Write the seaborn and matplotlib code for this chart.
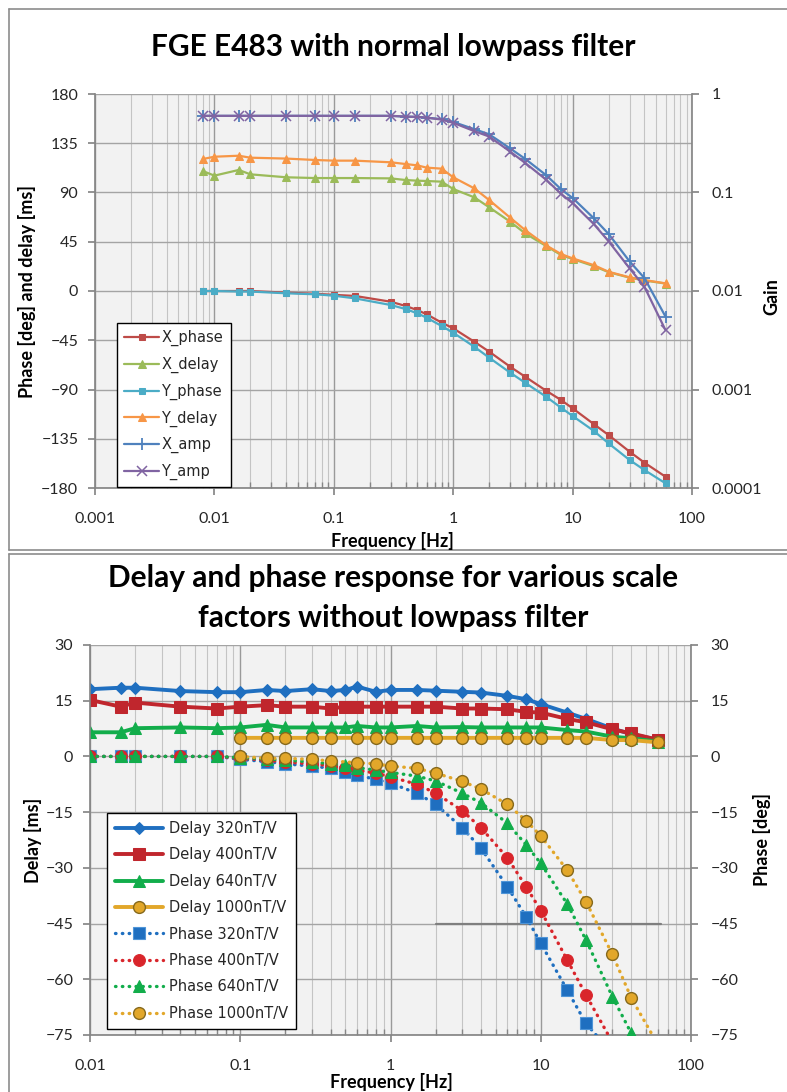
import numpy as np
import matplotlib.pyplot as plt
import seaborn as sns
from matplotlib.ticker import LogLocator, NullLocator, NullFormatter, FuncFormatter, MultipleLocator
from matplotlib.lines import Line2D

# ---------- top chart: FGE E483 with normal lowpass filter ----------
freq_top = [0.008, 0.01, 0.016, 0.02, 0.04, 0.07, 0.1, 0.15, 0.3, 0.4, 0.5, 0.6, 0.8,
            1, 1.5, 2, 3, 4, 6, 8, 10, 15, 20, 30, 40, 60]
x_phase = [0, 0, 0, 0, -1.5, -2.5, -3.5, -4.5, -9.8, -13.7, -17.4, -21.3, -28.9,
           -34.1, -46.3, -55.4, -69.2, -78.3, -91.1, -99.6, -107.2, -121.5, -131.6, -146.8, -156.9, -169.7]
x_delay = [109.6, 105.4, 110.6, 106.6, 103.9, 103.2, 103.2, 103.2, 102.9, 101.4, 100.8, 100.5, 99.9,
           93.2, 85.6, 76.5, 63.3, 52.7, 41.1, 32.9, 29.2, 22.8, 17.2, 12.2, 9.6, 6.8]
y_phase = [0, 0, -0.5, -0.5, -2.1, -3.0, -4.3, -6.7, -12.8, -16.5, -20.4, -24.4, -32.0,
           -38.1, -50.9, -60.9, -74.6, -83.8, -96.6, -106.6, -114.2, -127.7, -139.2, -154.4, -163.6, -175.7]
y_delay = [120.6, 122.7, 123.6, 121.8, 121.0, 119.7, 119.1, 119.1, 117.6, 116.0, 114.8, 112.7, 111.8,
           103.9, 93.8, 83.1, 67.0, 55.7, 41.7, 33.8, 29.8, 23.7, 17.6, 12.5, 10.0, 7.0]
x_amp = [0.6, 0.6, 0.6, 0.6, 0.6, 0.6, 0.6, 0.6, 0.6, 0.59, 0.585, 0.575, 0.555,
         0.52, 0.44, 0.39, 0.28, 0.22, 0.15, 0.108, 0.088, 0.055, 0.038, 0.02, 0.0135, 0.0055]
y_amp = [0.6, 0.6, 0.6, 0.6, 0.6, 0.6, 0.6, 0.6, 0.6, 0.59, 0.585, 0.575, 0.55,
         0.51, 0.42, 0.37, 0.26, 0.2, 0.135, 0.097, 0.078, 0.048, 0.032, 0.017, 0.011, 0.004]

# ---------- bottom chart: various scale factors, no lowpass ----------
freq_bot = [0.01, 0.016, 0.02, 0.04, 0.07, 0.1, 0.15, 0.2, 0.3, 0.4, 0.5, 0.6, 0.8,
            1, 1.5, 2, 3, 4, 6, 8, 10, 15, 20, 30, 40, 60]
nan = np.nan
delay_320 = [18.1, 18.5, 18.5, 17.6, 17.3, 17.3, 17.9, 17.6, 18.1, 17.6, 17.9, 18.8, 17.4,
             17.9, 17.9, 17.7, 17.4, 17.2, 16.3, 15.4, 14.1, 11.8, 10.1, 7.5, 6.0, 4.5]
delay_400 = [15.2, 13.4, 14.5, 13.4, 12.9, 13.4, 13.8, 13.4, 13.4, 12.9, 13.4, 13.4, 13.4,
             13.4, 13.4, 13.4, 12.9, 12.9, 12.7, 12.0, 11.8, 10.1, 9.2, 7.3, 6.2, 4.5]
delay_640 = [6.5, 6.5, 7.6, 7.8, 7.6, 7.8, 8.5, 7.8, 7.8, 7.8, 7.8, 8.2, 7.8,
             7.8, 8.2, 7.8, 7.9, 7.8, 7.8, 7.8, 7.8, 7.1, 6.7, 5.3, 4.9, 4.0]
delay_1000 = [nan, nan, nan, nan, nan, 5.0, 5.0, 5.0, 5.0, 5.0, nan, 5.0, 5.0,
              5.0, 5.0, 5.0, 5.0, 5.0, 5.0, 5.0, 5.0, 5.0, 5.0, 4.4, 4.4, 3.8]
phase_320 = [0, 0, 0, 0, 0, -0.8, -1.4, -2.0, -2.6, -3.2, -4.1, -5.0, -6.2,
             -7.2, -9.9, -12.9, -19.2, -24.7, -35.1, -43.2, -50.3, -62.9, -71.9, -80.0, nan, nan]
phase_400 = [0, 0, 0, 0, 0, -0.5, -1.0, -1.5, -2.0, -2.5, -3.0, -3.7, -4.5,
             -5.5, -7.5, -9.9, -14.6, -19.2, -27.3, -35.1, -41.5, -54.8, -64.2, -77.0, nan, nan]
phase_640 = [0, 0, 0, 0, 0, -0.3, -0.7, -1.0, -1.5, -2.0, -2.4, -3.0, -3.7,
             -4.3, -5.3, -6.6, -9.9, -12.5, -18.0, -23.8, -28.8, -39.7, -49.4, -64.7, -74.5, nan]
phase_1000 = [nan, nan, nan, nan, nan, 0, -0.5, -0.5, -0.8, -1.2, nan, -1.7, -2.0,
              -2.6, -3.2, -4.5, -6.7, -8.8, -12.9, -17.3, -21.4, -30.6, -39.1, -53.3, -65.0, -77.5]
ref_freq = [2, 63]
ref_level = [-45, -45]

W, H = 787, 1092
sns.set_theme(style="ticks")
plt.rcParams['font.family'] = ['Lato', 'DejaVu Sans']

fig = plt.figure(figsize=(W / 100, H / 100), dpi=100)
fig.patch.set_facecolor('white')


def px_axes(left, top, right, bottom):
    return fig.add_axes([left / W, 1 - bottom / H, (right - left) / W, (bottom - top) / H])


def draw(ax, x, y, **kw):
    x = np.asarray(x, float)
    y = np.asarray(y, float)
    keep = ~np.isnan(y)
    sns.lineplot(x=x[keep], y=y[keep], ax=ax, legend=False, sort=False,
                 estimator=None, errorbar=None, **kw)


def style_pair(ax, ax2):
    ax.set_facecolor('#f2f2f2')
    ax.set_xscale('log')
    ax.xaxis.set_major_locator(LogLocator(base=10, numticks=12))
    ax.xaxis.set_minor_locator(LogLocator(base=10, subs=np.arange(2, 10), numticks=40))
    ax.xaxis.set_major_formatter(FuncFormatter(lambda v, p: f'{v:g}'))
    ax.xaxis.set_minor_formatter(NullFormatter())
    ax.grid(which='major', axis='x', color='#9a9a9a', lw=1.0)
    ax.grid(which='minor', axis='x', color='#c4c4c4', lw=0.8)
    ax.grid(which='major', axis='y', color='#a4a4a4', lw=1.0)
    ax.set_axisbelow(True)
    for s in ['top', 'right']:
        ax.spines[s].set_visible(False)
    for s in ['left', 'bottom']:
        ax.spines[s].set_color('#868686')
    for s in ['top', 'left', 'bottom']:
        ax2.spines[s].set_visible(False)
    ax2.spines['right'].set_color('#868686')
    ax2.grid(False)
    ax.tick_params(axis='x', which='major', direction='out', length=5, pad=12,
                   labelsize=11.5, color='#868686', labelcolor='#262626')
    ax.tick_params(axis='x', which='minor', direction='in', length=4, color='#868686')
    ax.tick_params(axis='y', which='major', direction='out', length=5, pad=7,
                   labelsize=11.5, color='#868686', labelcolor='#262626')
    ax2.tick_params(axis='y', which='major', direction='out', length=5, pad=9,
                    labelsize=11.5, color='#868686', labelcolor='#262626')
    ax.set_xlabel('')
    ax.set_ylabel('')
    ax2.set_xlabel('')
    ax2.set_ylabel('')


# ---------------- top chart ----------------
ax = px_axes(95, 94, 692, 488)
ax2 = ax.twinx()
style_pair(ax, ax2)

lw = 1.6
draw(ax, freq_top, x_phase, color='#be4b48', lw=lw, marker='s', ms=5, mec='#be4b48', label='X_phase')
draw(ax, freq_top, x_delay, color='#9bbb59', lw=lw, marker='^', ms=5.5, mec='#9bbb59', label='X_delay')
draw(ax, freq_top, y_phase, color='#4bacc6', lw=lw, marker='s', ms=5, mec='#4bacc6', label='Y_phase')
draw(ax, freq_top, y_delay, color='#f79646', lw=lw, marker='^', ms=5.5, mec='#f79646', label='Y_delay')
draw(ax2, freq_top, x_amp, color='#4f81bd', lw=lw, marker='+', ms=8, mew=1.3, mec='#4f81bd', label='X_amp')
draw(ax2, freq_top, y_amp, color='#8064a2', lw=lw, marker='x', ms=6.5, mew=1.1, mec='#8064a2', label='Y_amp')

ax.set_xlim(0.001, 100)
ax.set_ylim(-180, 180)
ax.yaxis.set_major_locator(MultipleLocator(45))
ax2.set_yscale('log')
ax2.set_ylim(0.0001, 1)
ax2.yaxis.set_major_locator(LogLocator(base=10, numticks=10))
ax2.yaxis.set_minor_locator(NullLocator())
ax2.yaxis.set_major_formatter(FuncFormatter(lambda v, p: f'{v:g}'))

h1, l1 = ax.get_legend_handles_labels()
h2, l2 = ax2.get_legend_handles_labels()
leg = fig.legend(h1 + h2, l1 + l2, loc='upper left', bbox_to_anchor=(117 / W, 1 - 323 / H),
                 bbox_transform=fig.transFigure, borderaxespad=0, fancybox=False,
                 edgecolor='black', framealpha=1, prop={'family': 'DejaVu Sans', 'size': 10.5},
                 handlelength=2.4, handletextpad=0.15, labelspacing=0.72, borderpad=0.5)
leg.get_frame().set_linewidth(1.0)

title_kw = dict(ha='center', va='center', fontsize=21.5, fontweight='bold', color='black')
label_kw = dict(ha='center', va='center', fontsize=13, fontweight='bold', color='black')
fig.text(393 / W, 1 - 47 / H, 'FGE E483 with normal lowpass filter', **title_kw)
fig.text(27 / W, 1 - 292 / H, 'Phase [deg] and delay [ms]', rotation=90, **label_kw)
fig.text(772 / W, 1 - 297 / H, 'Gain', rotation=90, **label_kw)
fig.text(392 / W, 1 - 541 / H, 'Frequency [Hz]', **label_kw)

# ---------------- bottom chart ----------------
bx = px_axes(90, 645, 691, 1035)
bx2 = bx.twinx()
style_pair(bx, bx2)

dlw = 2.8
draw(bx, freq_bot, delay_320, color='#1f6fc0', lw=dlw, marker='D', ms=6.5, mec='#1f6fc0', label='Delay 320nT/V')
draw(bx, freq_bot, delay_400, color='#c0262d', lw=dlw, marker='s', ms=8.5, mec='#c0262d', label='Delay 400nT/V')
draw(bx, freq_bot, delay_640, color='#12ad4b', lw=dlw, marker='^', ms=8.5, mec='#12ad4b', label='Delay 640nT/V')
draw(bx, freq_bot, delay_1000, color='#e2a72a', lw=dlw, marker='o', ms=8.5, mec='#86691c', mew=1.0,
     label='Delay 1000nT/V')
bx.plot(ref_freq, ref_level, color='#7f7f7f', lw=1.6, zorder=1.5)

dots = (0, (0.15, 1.9))
plw = 2.4
draw(bx2, freq_bot, phase_320, color='#1f6fc0', lw=plw, ls=dots, dash_capstyle='round', marker='s', ms=9,
     mec='#4f95d8', mew=0.8, label='Phase 320nT/V')
draw(bx2, freq_bot, phase_400, color='#d9252b', lw=plw, ls=dots, dash_capstyle='round', marker='o', ms=8.5,
     mec='#d9252b', label='Phase 400nT/V')
draw(bx2, freq_bot, phase_640, color='#12ad4b', lw=plw, ls=dots, dash_capstyle='round', marker='^', ms=8.5,
     mec='#12ad4b', label='Phase 640nT/V')
draw(bx2, freq_bot, phase_1000, color='#e2a72a', lw=plw, ls=dots, dash_capstyle='round', marker='o', ms=8.5,
     mec='#86691c', mew=1.0, label='Phase 1000nT/V')

bx.set_xlim(0.01, 100)
for a in (bx, bx2):
    a.set_ylim(-75, 30)
    a.yaxis.set_major_locator(MultipleLocator(15))
    a.yaxis.set_minor_locator(NullLocator())

h1, l1 = bx.get_legend_handles_labels()
h2, l2 = bx2.get_legend_handles_labels()
leg2 = fig.legend(h1 + h2, l1 + l2, loc='upper left', bbox_to_anchor=(107 / W, 1 - 813 / H),
                  bbox_transform=fig.transFigure, borderaxespad=0, fancybox=False,
                  edgecolor='black', framealpha=1, prop={'family': 'DejaVu Sans', 'size': 10.5},
                  handlelength=3.3, handletextpad=0.4, labelspacing=0.78, borderpad=0.55)
leg2.get_frame().set_linewidth(1.0)

fig.text(393 / W, 1 - 578 / H, 'Delay and phase response for various scale', **title_kw)
fig.text(393 / W, 1 - 618 / H, 'factors without lowpass filter', **title_kw)
fig.text(33 / W, 1 - 840 / H, 'Delay [ms]', rotation=90, **label_kw)
fig.text(762 / W, 1 - 840 / H, 'Phase [deg]', rotation=90, **label_kw)
fig.text(391 / W, 1 - 1082 / H, 'Frequency [Hz]', **label_kw)

# chart frames
frame = dict(color='#8c8c8c', lw=1.2, transform=fig.transFigure)
for xs, ys in [([9, 9], [9, 550]), ([9, 787], [9, 9]), ([9, 787], [550, 550]),
               ([9, 9], [554, 1092]), ([9, 787], [554, 554])]:
    fig.add_artist(Line2D([v / W for v in xs], [1 - v / H for v in ys], **frame))

fig.savefig('out.png', dpi=100)
